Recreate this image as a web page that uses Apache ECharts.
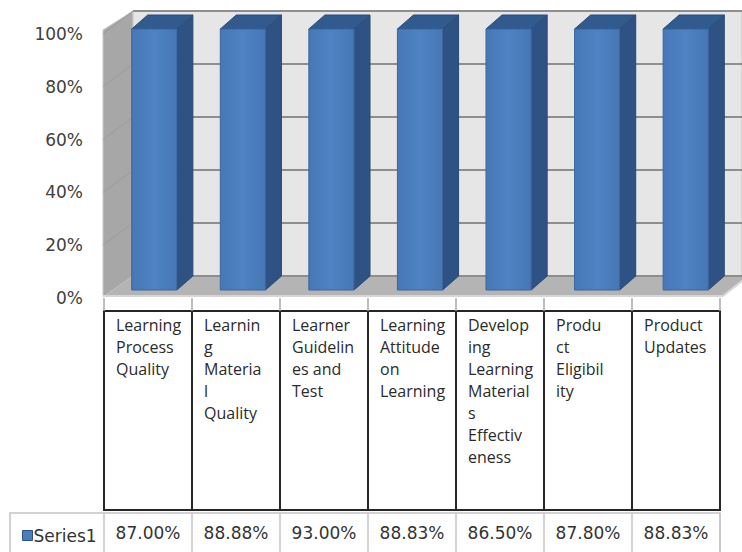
<!DOCTYPE html>
<html>
<head>
<meta charset="utf-8">
<script src="https://cdn.jsdelivr.net/npm/echarts@6/dist/echarts.min.js"></script>
<style>html,body{margin:0;padding:0;background:#fff}#c{width:742px;height:552px}</style>
</head>
<body>
<div id="c"></div>
<script>
// ---- data ----
const categories = ['Learning Process Quality', 'Learning Material Quality', 'Learner Guidelines and Test', 'Learning Attitude on Learning', 'Developing Learning Materials Effectiveness', 'Product Eligibility', 'Product Updates'];
const categoryTickLabels = ['Learning\nProcess\nQuality', 'Learnin\ng\nMateria\nl\nQuality', 'Learner\nGuidelin\nes and\nTest', 'Learning\nAttitude\non\nLearning', 'Develop\ning\nLearning\nMaterial\ns\nEffectiv\neness', 'Produ\nct\nEligibil\nity', 'Product\nUpdates'];
const seriesName = 'Series1';
const series1Values = [87.00, 88.88, 93.00, 88.83, 86.50, 87.80, 88.83];
const yTickLabels = ['0%', '20%', '40%', '60%', '80%', '100%'];

// 100% stacked column: each bar shows its share of the category total
const allSeries = [series1Values];
const stackShare = series1Values.map((v, i) => {
  const total = allSeries.reduce((s, arr) => s + arr[i], 0);
  return v / total * 100;
});

const numFont = 'DejaVu Sans';
const txtFont = 'Open Sans';
const chart = echarts.init(document.getElementById('c'), null, {renderer: 'svg'});

const DX = 16, DY = -14;
function renderBar(params, api) {
  const idx = api.value(0), v = api.value(1);
  const base = api.coord([idx, 0]);
  const top = api.coord([idx, v]);
  const w = api.size([1, 0])[0] * 0.51;
  const x0 = base[0] - w / 2, x1 = base[0] + w / 2;
  const yT = top[1], yB = base[1];
  return {
    type: 'group',
    children: [
      {type: 'polygon', shape: {points: [[x1, yT], [x1 + DX, yT + DY], [x1 + DX, yB + DY], [x1, yB]]},
        style: {fill: '#2d5283', stroke: '#284a77', lineWidth: 1}},
      {type: 'polygon', shape: {points: [[x0, yT], [x1, yT], [x1 + DX, yT + DY], [x0 + DX, yT + DY]]},
        style: {fill: '#315a8e', stroke: '#2a4d7b', lineWidth: 1}},
      {type: 'rect', shape: {x: x0, y: yT, width: w, height: yB - yT},
        style: {fill: new echarts.graphic.LinearGradient(0, 0, 1, 0, [
          {offset: 0, color: '#4777b6'}, {offset: 0.5, color: '#4f83c4'}, {offset: 1, color: '#4676b5'}]),
          stroke: '#3b679f', lineWidth: 1}}
    ]
  };
}

// walls / floor (decorative chart-area background)
const sideLines = [];
for (let k = 1; k <= 5; k++) {
  sideLines.push({type: 'line', z: -5, shape: {x1: 103, y1: 298 - k * 52.8, x2: 133, y2: 276 - k * 53},
    style: {stroke: '#9b9b9b', lineWidth: 1}});
}
const colX = [104, 192, 280, 368, 456, 544, 632, 720];
const tableLines = [];
colX.slice(1, -1).forEach(x => {
  tableLines.push({type: 'line', z: -1, shape: {x1: x, y1: 311, x2: x, y2: 510}, style: {stroke: '#262626', lineWidth: 2}});
});
colX.forEach(x => {
  tableLines.push({type: 'line', z: -1, shape: {x1: x, y1: 513, x2: x, y2: 552}, style: {stroke: '#c4c4c4', lineWidth: 1.5}});
});

chart.setOption({
  backgroundColor: '#ffffff',
  animation: false,
  legend: {
    show: true, left: 17, top: 522, itemWidth: 10, itemHeight: 10, itemGap: 0,
    icon: 'rect',
    textStyle: {fontFamily: numFont, fontSize: 17, color: '#333', padding: [0, 0, 0, -4]},
    data: [{name: seriesName, itemStyle: {color: '#4a7ebb', borderColor: '#2d5283', borderWidth: 1}}]
  },
  graphic: [
    {type: 'polygon', z: -10, shape: {points: [[103, 30], [133, 11], [133, 276], [103, 297]]},
      style: {fill: '#a7a7a7', stroke: '#c8c8c8', lineWidth: 1}},
    ...sideLines,
    {type: 'polygon', z: -4, shape: {points: [[103, 297], [133, 276], [742, 276], [742, 280], [723, 295]]},
      style: {fill: '#b4b4b4'}},
    {type: 'line', z: -3, shape: {x1: 103, y1: 296, x2: 723, y2: 296}, style: {stroke: '#d6d6d6', lineWidth: 2}},
    {type: 'line', z: -3, shape: {x1: 723, y1: 296, x2: 742, y2: 281}, style: {stroke: '#d6d6d6', lineWidth: 2}},
    {type: 'rect', z: -1, shape: {x: 104, y: 311, width: 616, height: 199}, style: {fill: 'none', stroke: '#262626', lineWidth: 2}},
    {type: 'rect', z: -1, shape: {x: 10, y: 513, width: 710, height: 40}, style: {fill: 'none', stroke: '#c4c4c4', lineWidth: 1.5}},
    ...tableLines
  ],
  grid: [
    {left: 104, width: 616, top: 34, bottom: 254, containLabel: false},
    {left: 110, width: 620, top: 29, bottom: 262},
    {left: 133, right: -30, top: 11, bottom: 276, show: true, backgroundColor: '#e6e6e6', borderColor: '#c0c0c0', borderWidth: 1}
  ],
  xAxis: [
    {type: 'category', gridIndex: 0, data: categories, boundaryGap: true, z: 10,
      axisLine: {show: false},
      axisTick: {show: true, length: 13, alignWithLabel: false, lineStyle: {color: '#a8a8a8', width: 1.5}},
      axisLabel: {show: true, interval: 0, margin: 16, verticalAlign: 'top',
        formatter: (val, i) => categoryTickLabels[i].split('\n').map(l => '{a|' + l + '}').join('\n'),
        rich: {a: {width: 64, align: 'left', fontFamily: txtFont, fontSize: 16, lineHeight: 22, color: '#2b2b2b'}}}},
    {type: 'category', gridIndex: 0, position: 'bottom', offset: 235, data: categories, z: 10,
      axisLine: {show: false}, axisTick: {show: false},
      axisLabel: {show: true, interval: 0, margin: 0, verticalAlign: 'middle',
        formatter: (val, i) => series1Values[i].toFixed(2) + '%',
        fontFamily: numFont, fontSize: 17, color: '#333'}},
    {type: 'category', gridIndex: 1, data: categories, show: false},
    {type: 'value', gridIndex: 2, show: false}
  ],
  yAxis: [
    {type: 'value', gridIndex: 0, min: 0, max: 100, interval: 20,
      axisLine: {show: false}, axisTick: {show: false}, splitLine: {show: false},
      axisLabel: {margin: 21, formatter: (v) => yTickLabels[v / 20], fontFamily: numFont, fontSize: 17, color: '#404040'}},
    {type: 'value', gridIndex: 1, min: 0, max: 100, show: false},
    {type: 'value', gridIndex: 2, min: 0, max: 100, interval: 20,
      axisLine: {show: false}, axisTick: {show: false}, axisLabel: {show: false},
      splitLine: {show: true, lineStyle: {color: '#8e8e8e', width: 2}}}
  ],
  series: [
    {type: 'custom', name: seriesName, xAxisIndex: 2, yAxisIndex: 1, z: 5,
      itemStyle: {color: '#4a7ebb'},
      renderItem: renderBar,
      encode: {x: 0, y: 1},
      data: stackShare.map((s, i) => [i, s])}
  ]
});
</script>
</body>
</html>
